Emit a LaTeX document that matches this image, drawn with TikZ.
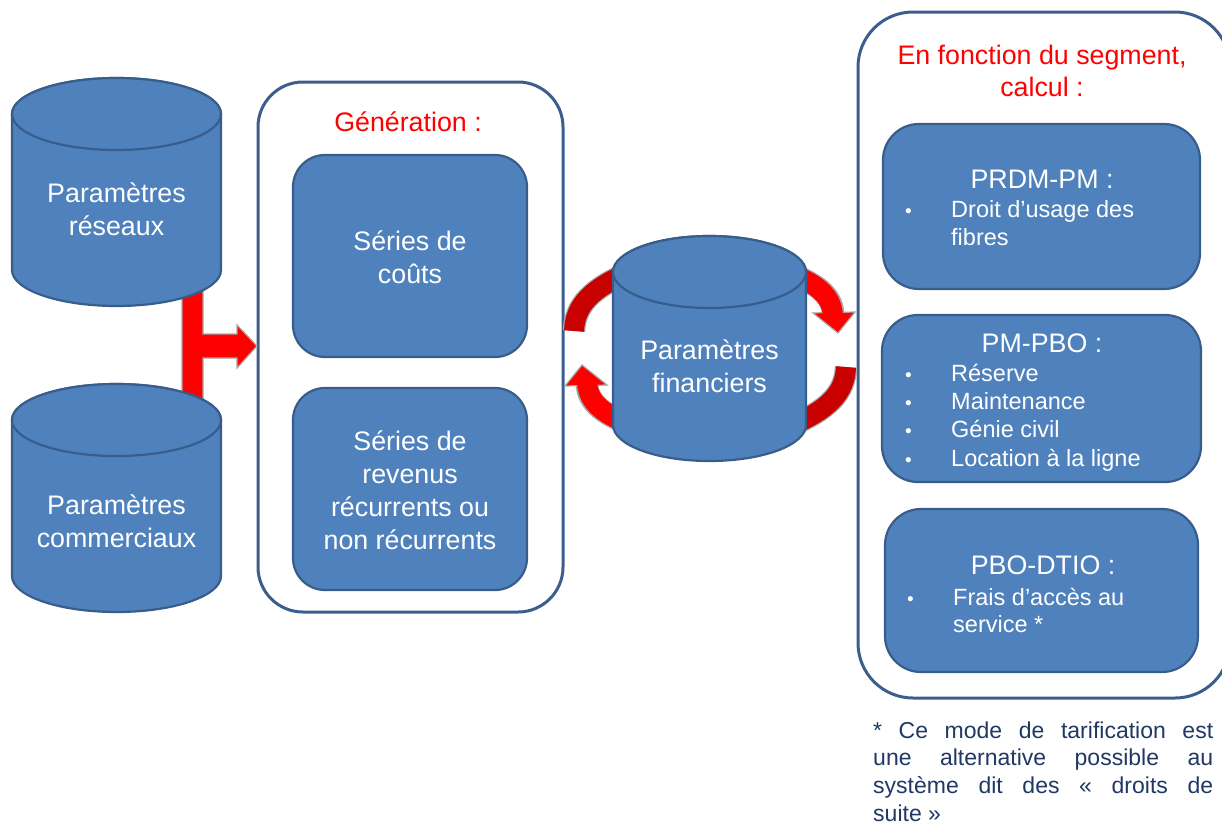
\documentclass[tikz,border=0pt]{standalone}
\usepackage{fontspec}
\setmainfont{Liberation Sans}
\definecolor{boxfill}{HTML}{4F81BD}
\definecolor{boxedge}{HTML}{385D8A}
\definecolor{frameedge}{HTML}{3B5E8C}
\definecolor{noteblue}{HTML}{1F3864}
\definecolor{darkred}{HTML}{C80000}
\definecolor{shade}{HTML}{A6A6A6}
% body and lid of a database drum: centre x, lid centre y, base centre y, x radius, y radius
\newcommand\drumshape[5]{%
  \path[drum] (#1-#4,#2) -- (#1-#4,#3)
    arc[start angle=180,end angle=0,x radius=#4,y radius=#5]
    -- (#1+#4,#2)
    arc[start angle=0,end angle=-180,x radius=#4,y radius=#5] -- cycle;
  \path[drum] (#1,#2) ellipse[x radius=#4,y radius=#5];}
\begin{document}
\begin{tikzpicture}[x=1pt,y=-1pt,
  drum/.style={draw=boxedge,fill=boxfill,line width=2.2pt},
  frame/.style={draw=frameedge,line width=3pt,inner sep=0pt},
  bluebox/.style={draw=boxedge,fill=boxfill,line width=2.2pt,inner sep=0pt},
  bigtext/.style={text=white,align=center,font=\fontsize{26.8}{33}\selectfont},
  redtitle/.style={text=red,align=center,font=\fontsize{26.8}{32}\selectfont},
  boxtitle/.style={text=white,font=\fontsize{26.8}{30}\selectfont},
  itemtext/.style={text=white,anchor=base west,inner sep=0pt,font=\fontsize{23.5}{28}\selectfont},
  dot/.style={text=white,anchor=base west,inner sep=0pt,font=\fontsize{19}{28}\selectfont},
  redfill/.style={fill=red,draw=shade,line width=1.2pt,line join=miter},
  bandshadow/.style={draw=shade,line width=22.5pt},
  band/.style={line width=20pt}]
\useasboundingbox (0,0) rectangle (1222,825);
\clip (0,0) rectangle (1222,825);

% outer frames
\node[frame,rounded corners=45pt,minimum width=305pt,minimum height=530pt] (gen) at (410.5,347) {};
\node[frame,rounded corners=55pt,minimum width=372pt,minimum height=686pt] (seg) at (1044,355) {};

% red junction arrow joining the two drums to the generation frame
\path[redfill] (182,290) -- (203,290) -- (203,334) -- (237,334) -- (237,325)
  -- (257,346) -- (237,368) -- (237,358) -- (203,358) -- (203,400) -- (182,400) -- cycle;

% drums on the left
\drumshape{116.5}{114}{270}{104.5}{36}
\drumshape{116.5}{420}{576}{104.5}{36}
\node[bigtext] (reseaux) at (116.5,209.5) {Paramètres\\réseaux};
\node[bigtext] (commerciaux) at (116.5,521.5) {Paramètres\\commerciaux};

% circular arrows around the financial drum
\draw[bandshadow] (574,331) .. controls (575,305) and (592,288) .. (630,272);
\draw[band,darkred] (574,331) .. controls (575,305) and (592,288) .. (630,272);
\draw[bandshadow] (785,272) .. controls (815,282) and (832,295) .. (833,313);
\path[redfill] (813,313) -- (855,312) -- (838,333) -- cycle;
\draw[band,red] (785,272) .. controls (815,282) and (832,295) .. (833,316);
\draw[bandshadow] (846,367) .. controls (845,393) and (828,410) .. (790,426);
\draw[band,darkred] (846,367) .. controls (845,393) and (828,410) .. (790,426);
\draw[bandshadow] (635,426) .. controls (605,416) and (588,403) .. (587,385);
\path[redfill] (607,385) -- (565,386) -- (582,365) -- cycle;
\draw[band,red] (635,426) .. controls (605,416) and (588,403) .. (587,382);

\drumshape{709.5}{272}{425}{96.5}{36}
\node[bigtext] (financiers) at (709.5,366.5) {Paramètres\\financiers};

% generation frame contents
\node[redtitle] (gentitle) at (408,122) {Génération :};
\node[bluebox,rounded corners=32pt,minimum width=234pt,minimum height=202pt] (couts) at (410,256) {};
\node[bigtext] (coutstext) at (410,257) {Séries de\\coûts};
\node[bluebox,rounded corners=32pt,minimum width=234pt,minimum height=202pt] (revenus) at (410,489) {};
\node[bigtext] (revenustext) at (410,490) {Séries de\\revenus\\récurrents ou\\non récurrents};

% segment frame contents
\node[redtitle] (segtitle) at (1042,71) {En fonction du segment,\\calcul :};

\node[bluebox,rounded corners=36pt,minimum width=317pt,minimum height=165pt] (prdm) at (1041.5,206.5) {};
\node[boxtitle] (prdmtitle) at (1042,179) {PRDM-PM :};
\node[dot] (prdmd1) at (905,217) {•};
\node[itemtext] (prdmi1) at (951,217) {Droit d’usage des};
\node[itemtext] (prdmi1b) at (951,245) {fibres};

\node[bluebox,rounded corners=36pt,minimum width=319pt,minimum height=167pt] (pmpbo) at (1041.5,398.5) {};
\node[boxtitle] (pmpbotitle) at (1042,343) {PM-PBO :};
\node[dot] (pmpbod1) at (905,381) {•};
\node[itemtext] (pmpboi1) at (951,381) {Réserve};
\node[dot] (pmpbod2) at (905,409) {•};
\node[itemtext] (pmpboi2) at (951,409) {Maintenance};
\node[dot] (pmpbod3) at (905,437) {•};
\node[itemtext] (pmpboi3) at (951,437) {Génie civil};
\node[dot] (pmpbod4) at (905,466) {•};
\node[itemtext] (pmpboi4) at (951,466) {Location à la ligne};

\node[bluebox,rounded corners=36pt,minimum width=313pt,minimum height=163pt] (pbo) at (1041.5,590.5) {};
\node[boxtitle] (pbotitle) at (1043,565) {PBO-DTIO :};
\node[dot] (pbod1) at (907,605) {•};
\node[itemtext] (pboi1) at (953,605) {Frais d’accès au};
\node[itemtext] (pboi1b) at (953,632) {service *};

% footnote
\node[anchor=base west,inner sep=0pt,text=noteblue] (note) at (873,738)
  {\parbox[t]{340pt}{\fontsize{23}{27.8}\selectfont\parindent=0pt
   * Ce mode de tarification est\linebreak
   une alternative possible au\linebreak
   système dit des « droits de\linebreak
   suite »}};
\end{tikzpicture}
\end{document}
